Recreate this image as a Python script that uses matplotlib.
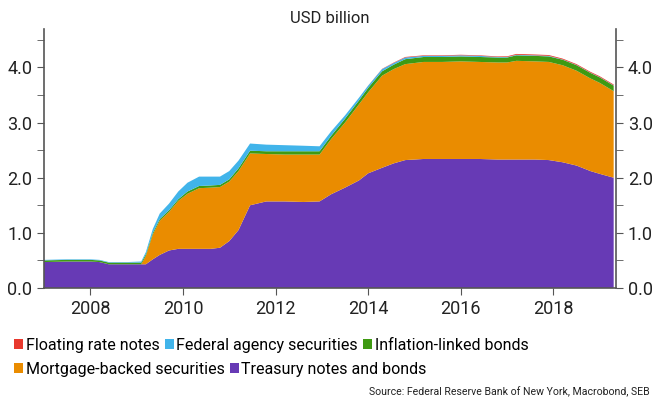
import numpy as np
import matplotlib
matplotlib.use("Agg")
from matplotlib import pyplot as plt
from matplotlib.patches import Patch

plt.rcParams['font.family'] = ['Roboto', 'DejaVu Sans']

# decimal years
dates = [2007.0, 2007.5, 2008.0, 2008.2, 2008.4, 2008.8, 2009.1, 2009.2, 2009.35,
         2009.5, 2009.7, 2009.9, 2010.1, 2010.35, 2010.6, 2010.8, 2011.0, 2011.2,
         2011.45, 2011.8, 2012.2, 2012.6, 2012.95, 2013.2, 2013.5, 2013.8, 2014.0,
         2014.3, 2014.55, 2014.8, 2015.2, 2015.6, 2016.0, 2016.4, 2016.8, 2017.0,
         2017.2, 2017.6, 2017.9, 2018.2, 2018.5, 2018.8, 2019.0, 2019.3]

treasury = [0.47, 0.48, 0.48, 0.47, 0.43, 0.43, 0.43, 0.43, 0.52,
            0.60, 0.68, 0.71, 0.71, 0.71, 0.71, 0.73, 0.85, 1.05,
            1.50, 1.57, 1.57, 1.56, 1.57, 1.70, 1.82, 1.95, 2.08,
            2.18, 2.26, 2.32, 2.34, 2.34, 2.34, 2.34, 2.33, 2.33,
            2.33, 2.33, 2.32, 2.28, 2.22, 2.12, 2.07, 2.00]

mbs = [0.0, 0.0, 0.0, 0.0, 0.0, 0.0, 0.0, 0.15, 0.45,
       0.62, 0.70, 0.87, 1.00, 1.10, 1.11, 1.10, 1.08, 1.07,
       0.94, 0.86, 0.85, 0.86, 0.85, 1.00, 1.18, 1.38, 1.47,
       1.67, 1.71, 1.74, 1.76, 1.76, 1.77, 1.76, 1.76, 1.76,
       1.79, 1.78, 1.78, 1.76, 1.72, 1.68, 1.65, 1.57]

inflation = [0.03, 0.03, 0.03, 0.03, 0.03, 0.03, 0.03, 0.03, 0.03,
             0.03, 0.03, 0.03, 0.04, 0.04, 0.04, 0.04, 0.04, 0.05,
             0.05, 0.05, 0.06, 0.06, 0.06, 0.06, 0.07, 0.07, 0.08,
             0.08, 0.08, 0.09, 0.09, 0.09, 0.09, 0.09, 0.09, 0.09,
             0.10, 0.10, 0.10, 0.10, 0.10, 0.10, 0.10, 0.10]

agency = [0.01, 0.01, 0.01, 0.01, 0.01, 0.01, 0.02, 0.04, 0.07,
          0.10, 0.12, 0.14, 0.16, 0.17, 0.16, 0.15, 0.15, 0.14,
          0.13, 0.12, 0.11, 0.10, 0.09, 0.08, 0.06, 0.05, 0.04,
          0.04, 0.03, 0.03, 0.02, 0.02, 0.02, 0.02, 0.01, 0.01,
          0.01, 0.01, 0.01, 0.005, 0.005, 0.005, 0.005, 0.005]

frn = [0.0, 0.0, 0.0, 0.0, 0.0, 0.0, 0.0, 0.0, 0.0,
       0.0, 0.0, 0.0, 0.0, 0.0, 0.0, 0.0, 0.0, 0.0,
       0.0, 0.0, 0.0, 0.0, 0.0, 0.0, 0.0, 0.0, 0.002,
       0.005, 0.008, 0.01, 0.01, 0.01, 0.01, 0.01, 0.01, 0.012,
       0.015, 0.015, 0.015, 0.015, 0.015, 0.015, 0.015, 0.015]

labels = ['Treasury notes and bonds', 'Mortgage-backed securities', 'Inflation-linked bonds',
          'Federal agency securities', 'Floating rate notes']
colors = ['#673ab5', '#ea8c00', '#3f9a12', '#41b4ea', '#e8392e']

fig = plt.figure(figsize=(6.56, 4.03), dpi=100)
ax = fig.add_axes([0.067, 0.2854, 0.872, 0.643])

ax.stackplot(dates, treasury, mbs, inflation, agency, frn, colors=colors, linewidth=0)

ax.set_xlim(2007.0, 2019.35)
ax.set_ylim(0, 4.7)
ax.set_xticks([2008, 2010, 2012, 2014, 2016, 2018])
ax.set_yticks([0, 1, 2, 3, 4])
ax.set_yticklabels(['0.0', '1.0', '2.0', '3.0', '4.0'])
ax.set_yticks([0.5, 1.5, 2.5, 3.5, 4.5], minor=True)

for s in ['left', 'right', 'bottom']:
    ax.spines[s].set_color('#555555')
    ax.spines[s].set_linewidth(1.2)
ax.spines['top'].set_visible(False)
ax.tick_params(axis='both', which='both', direction='out', length=5, color='#555555',
               labelsize=13, labelcolor='#222222')
ax.tick_params(axis='y', which='both', left=True, right=True, labelleft=True, labelright=True)

fig.text(0.502, 0.955, 'USD billion', ha='center', va='center', fontsize=12, color='#222222')

h = {l: Patch(facecolor=c, edgecolor='none') for l, c in zip(labels, colors)}
row1 = ['Floating rate notes', 'Federal agency securities', 'Inflation-linked bonds']
row2 = ['Mortgage-backed securities', 'Treasury notes and bonds']
common = dict(frameon=False, fontsize=11.5, handlelength=0.55, handleheight=0.55,
              handletextpad=0.15, columnspacing=0.35, borderpad=0, borderaxespad=0)
fig.legend([h[l] for l in row1], row1, ncol=3, loc='center left',
           bbox_to_anchor=(0.022, 0.143), **common)
fig.legend([h[l] for l in row2], row2, ncol=2, loc='center left',
           bbox_to_anchor=(0.022, 0.084), **common)

fig.text(0.99, 0.015, 'Source: Federal Reserve Bank of New York, Macrobond, SEB',
         ha='right', va='bottom', fontsize=7.6, color='#222222')

fig.savefig('out.png', dpi=100)
